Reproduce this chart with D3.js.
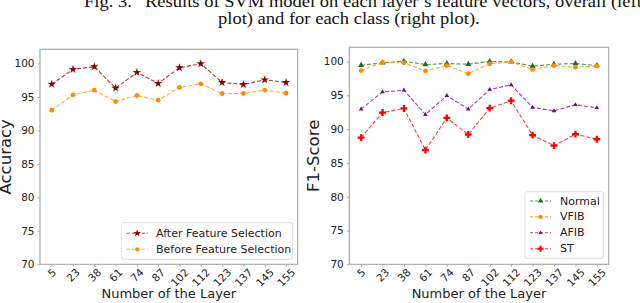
<!DOCTYPE html>
<html>
<head>
<meta charset="utf-8">
<script src="https://cdn.jsdelivr.net/npm/d3@7"></script>
<style>
  body { margin: 0; background: #fff; }
  svg { display: block; }
  text { font-family: "DejaVu Sans", sans-serif; fill: #222; }
  .caption { font-family: "Liberation Serif", serif; fill: #111; font-size: 17px; }
</style>
</head>
<body>
<svg id="chart" width="640" height="303"></svg>
<script>
var layers = ["5", "23", "38", "61", "74", "87", "102", "112", "123", "137", "145", "155"];
var yTicks = [70, 75, 80, 85, 90, 95, 100];

// left plot: overall accuracy
var afterSel = [96.9, 99.1, 99.5, 96.3, 98.65, 97.0, 99.35, 99.95, 97.15, 96.85, 97.55, 97.15];
var beforeSel = [93.0, 95.3, 96.0, 94.3, 95.2, 94.5, 96.4, 96.95, 95.5, 95.5, 96.0, 95.55];

// right plot: F1 per class
var normal = [99.45, 99.8, 100.05, 99.55, 99.7, 99.6, 100.0, 99.95, 99.3, 99.6, 99.7, 99.4];
var vfib = [98.65, 99.85, 99.8, 98.6, 99.4, 98.2, 99.65, 99.95, 98.8, 99.4, 99.15, 99.35];
var afib = [92.95, 95.5, 95.75, 92.15, 94.95, 92.95, 95.85, 96.55, 93.2, 92.7, 93.6, 93.15];
var st = [88.75, 92.45, 93.05, 86.9, 91.65, 89.2, 93.1, 94.2, 89.1, 87.55, 89.25, 88.5];

var svg = d3.select("#chart");

// caption: the scan is a bit stretched sideways, and the top line is cut off
var sx = 1.09;
var cap = svg.append("g").attr("transform", "scale(" + sx + ",1)");
cap.append("text").attr("class", "caption")
  .attr("x", 84 / sx).attr("y", 7).text("Fig. 3.");
cap.append("text").attr("class", "caption")
  .attr("x", 145 / sx).attr("y", 7)
  .text("Results of SVM model on each layer\u2019s feature vectors, overall (left");
cap.append("text").attr("class", "caption")
  .attr("x", 218 / sx).attr("y", 24)
  .text("plot) and for each class (right plot).");

function drawPanel(box, yLabel, series, legendBox) {
  var x = d3.scalePoint().domain(layers).range([box.left, box.right]).padding(0.55);
  var y = d3.scaleLinear().domain([70, 102.1]).range([box.bottom, box.top]);
  var g = svg.append("g");

  // frame
  g.append("rect")
    .attr("x", box.left).attr("y", box.top)
    .attr("width", box.right - box.left).attr("height", box.bottom - box.top)
    .attr("fill", "none").attr("stroke", "#aaa").attr("stroke-width", 1.2);

  // y axis
  var yAxis = g.append("g")
    .attr("transform", "translate(" + box.left + ",0)")
    .call(d3.axisLeft(y).tickValues(yTicks).tickSize(2.5).tickPadding(3));
  yAxis.select(".domain").remove();
  yAxis.selectAll("line").attr("stroke", "#aaa");
  yAxis.selectAll("text").style("font-size", "10.5px").attr("fill", "#222");

  // x axis with 45 degree labels centred under each tick
  var xAxis = g.append("g")
    .attr("transform", "translate(0," + box.bottom + ")")
    .call(d3.axisBottom(x).tickSize(2.5).tickFormat(""));
  xAxis.select(".domain").remove();
  xAxis.selectAll("line").attr("stroke", "#aaa");
  layers.forEach(function (l) {
    var t = g.append("text").style("font-size", "10.5px")
      .attr("text-anchor", "middle").attr("dominant-baseline", "central").text(l);
    var w = t.node().getComputedTextLength();
    var h = (w + 8) / Math.SQRT2;
    t.attr("transform", "translate(" + x(l) + "," + (box.bottom + 3 + h / 2) + ") rotate(-45)");
  });

  g.append("text")
    .attr("x", (box.left + box.right) / 2).attr("y", 298)
    .attr("text-anchor", "middle").style("font-size", "13px")
    .text("Number of the Layer");

  g.append("text")
    .attr("transform", "translate(" + yLabel.x + "," + (box.top + box.bottom) / 2 + ") rotate(-90)")
    .attr("text-anchor", "middle").style("font-size", yLabel.size + "px")
    .text(yLabel.text);

  var line = d3.line().x(function (d, i) { return x(layers[i]); }).y(function (d) { return y(d); });

  series.forEach(function (s) {
    g.append("path").datum(s.values)
      .attr("d", line).attr("fill", "none")
      .attr("stroke", s.color).attr("stroke-width", 1.1)
      .attr("stroke-dasharray", "4,2").attr("opacity", 0.75);
    g.selectAll(null).data(s.values).enter().append("path")
      .attr("transform", function (d, i) { return "translate(" + x(layers[i]) + "," + y(d) + ")"; })
      .attr("d", d3.symbol().type(s.symbol).size(s.size))
      .attr("fill", s.color);
  });

  // legend
  var lg = g.append("g");
  lg.append("rect")
    .attr("x", legendBox.x).attr("y", legendBox.y)
    .attr("width", legendBox.w).attr("height", legendBox.h)
    .attr("rx", 2).attr("fill", "#fff").attr("stroke", "#ddd");
  series.forEach(function (s, i) {
    var yy = legendBox.y + legendBox.first + i * legendBox.step;
    lg.append("line")
      .attr("x1", legendBox.x + 5).attr("x2", legendBox.x + 26)
      .attr("y1", yy).attr("y2", yy)
      .attr("stroke", s.color).attr("stroke-width", 1.1)
      .attr("stroke-dasharray", "3,2").attr("opacity", 0.75);
    lg.append("path")
      .attr("transform", "translate(" + (legendBox.x + 15.5) + "," + yy + ")")
      .attr("d", d3.symbol().type(s.symbol).size(s.size * 0.8))
      .attr("fill", s.color);
    lg.append("text")
      .attr("x", legendBox.x + legendBox.textDx).attr("y", yy)
      .attr("dominant-baseline", "central").style("font-size", "11px")
      .text(s.name);
  });
}

drawPanel(
  { left: 40, right: 297.7, top: 49.3, bottom: 264.3 },
  { x: 11, size: 16.5, text: "Accuracy" },
  [
    { name: "After Feature Selection", values: afterSel, color: "#8b0000", symbol: d3.symbolStar, size: 22 },
    { name: "Before Feature Selection", values: beforeSel, color: "#ff8c00", symbol: d3.symbolCircle, size: 18 }
  ],
  { x: 121.7, y: 222.7, w: 171, h: 36.6, first: 10.6, step: 16, textDx: 34.3 }
);

drawPanel(
  { left: 349.3, right: 608.7, top: 47.3, bottom: 264.3 },
  { x: 319, size: 16.5, text: "F1-Score" },
  [
    { name: "Normal", values: normal, color: "#1f6e1f", symbol: d3.symbolTriangle, size: 16 },
    { name: "VFIB", values: vfib, color: "#ff8c00", symbol: d3.symbolCircle, size: 18 },
    { name: "AFIB", values: afib, color: "#800080", symbol: d3.symbolTriangle, size: 9 },
    { name: "ST", values: st, color: "#ff0000", symbol: d3.symbolCross, size: 26 }
  ],
  { x: 525, y: 191.7, w: 78.3, h: 66.6, first: 9.3, step: 15.9, textDx: 35 }
);
</script>
</body>
</html>
